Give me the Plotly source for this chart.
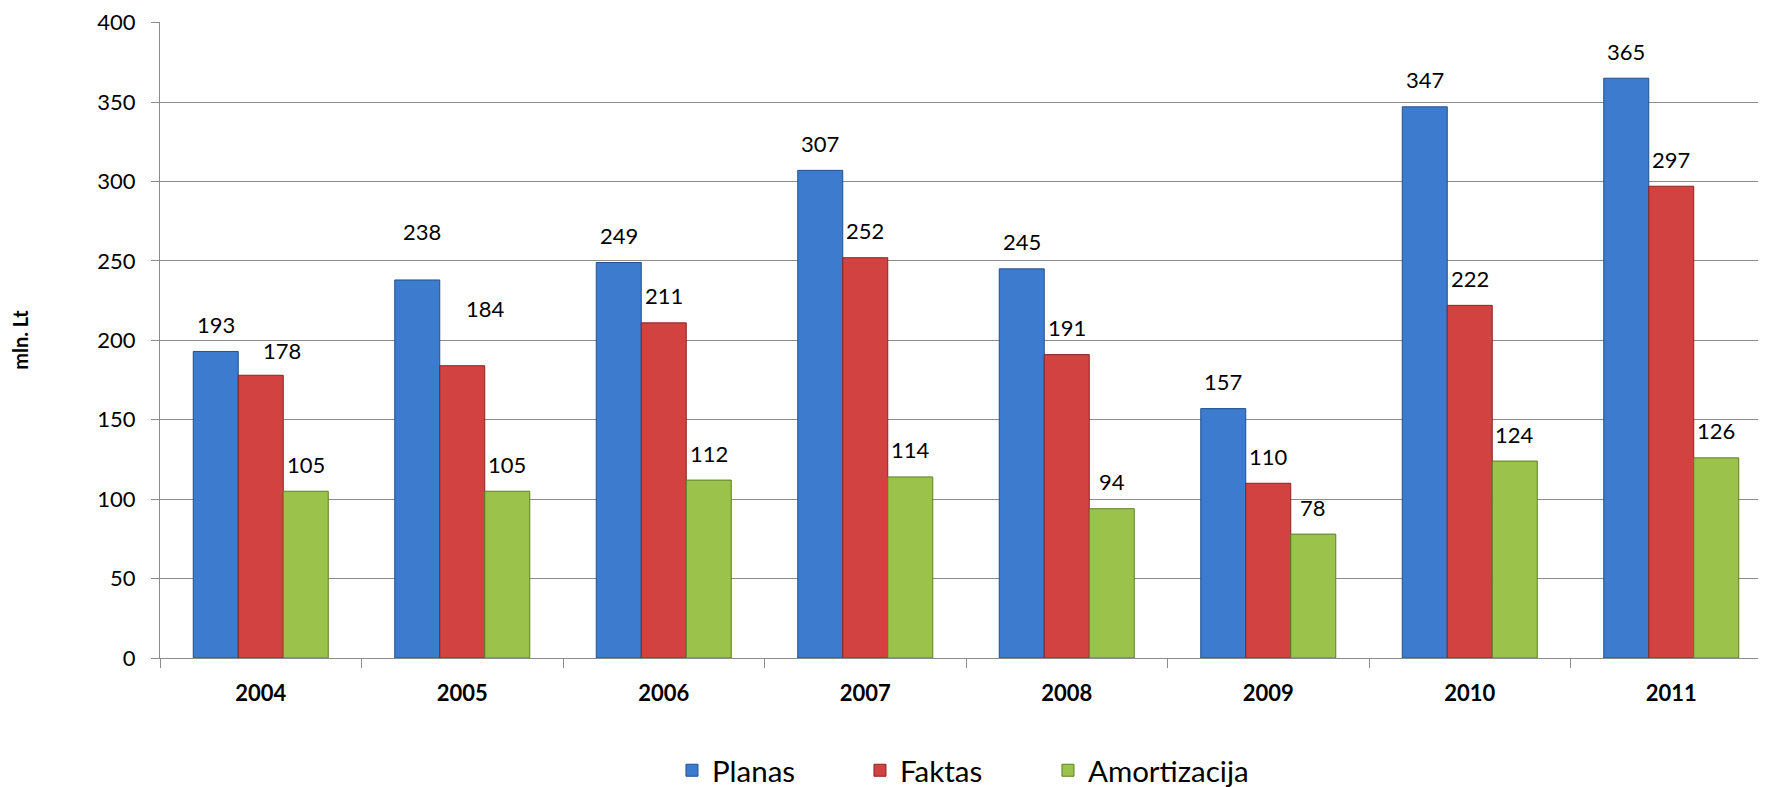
import plotly.graph_objects as go

years = ["2004", "2005", "2006", "2007", "2008", "2009", "2010", "2011"]
planas = [193, 238, 249, 307, 245, 157, 347, 365]
faktas = [178, 184, 211, 252, 191, 110, 222, 297]
amortizacija = [105, 105, 112, 114, 94, 78, 124, 126]

series_names = ["Planas", "Faktas", "Amortizacija"]
series_values = [planas, faktas, amortizacija]
fill_colors = ["#3C7BCD", "#D14240", "#9BC24A"]
edge_colors = ["#234F8C", "#8A2422", "#5F7E27"]

# label placement tweaks (pixels): (series, year index) -> (dx, dy)
label_tweaks = {(1, 0): (21, 25), (0, 1): (5, 48), (1, 1): (23, 57)}
default_dy = 27

FONT = "Lato"
bargap = 0.33
nser = len(series_names)
bar_w = (1 - bargap) / nser

fig = go.Figure()
for k, (name, vals) in enumerate(zip(series_names, series_values)):
    fig.add_trace(go.Bar(
        name=name, x=years, y=vals,
        marker=dict(color=fill_colors[k], line=dict(color=edge_colors[k], width=1)),
        hoverinfo="x+y+name",
    ))
# blank spacer legend entry so the last legend label is not clipped by the fixed entry width
fig.add_trace(go.Scatter(
    name=" ", x=[None], y=[None], mode="markers", showlegend=True, hoverinfo="skip",
    marker=dict(color="rgba(0,0,0,0)", size=1, line=dict(width=0)),
))

annotations = []
for k, vals in enumerate(series_values):
    for i, v in enumerate(vals):
        dx, dy = label_tweaks.get((k, i), (0, default_dy))
        annotations.append(dict(
            x=i + (k - (nser - 1) / 2) * bar_w, y=v, xref="x", yref="y",
            text=str(v), showarrow=False, xanchor="center", yanchor="middle",
            xshift=dx, yshift=dy,
            font=dict(family=FONT, size=22, color="#000000"),
        ))

fig.update_layout(
    width=1766, height=800,
    margin=dict(l=152, r=2, t=14, b=150, pad=0, autoexpand=False),
    paper_bgcolor="white", plot_bgcolor="white",
    barmode="group", bargap=bargap, bargroupgap=0,
    font=dict(family=FONT, color="#000000"),
    annotations=annotations,
    showlegend=True,
    legend=dict(
        orientation="h", x=0.3176, xanchor="left", y=-0.177, yanchor="middle",
        font=dict(family=FONT, size=29.5, color="#000000"),
        entrywidth=143, entrywidthmode="pixels",
        bgcolor="rgba(0,0,0,0)", borderwidth=0,
    ),
)

fig.update_xaxes(
    type="category", range=[-0.5, 7.5], automargin=False,
    showline=True, linecolor="#8C8C8C", linewidth=1,
    ticks="outside", tickson="boundaries", ticklen=9, tickcolor="#8C8C8C",
    tickfont=dict(family=FONT, size=22, color="#000000", weight="bold"),
    ticklabelstandoff=16,
    showgrid=False, zeroline=False,
)
fig.update_yaxes(
    range=[0, 400.4], tick0=0, dtick=50, automargin=False,
    showline=True, linecolor="#8C8C8C", linewidth=1,
    ticks="outside", ticklen=8, tickcolor="#8C8C8C",
    tickfont=dict(family=FONT, size=22, color="#000000"),
    ticklabelstandoff=11,
    showgrid=True, gridcolor="#8C8C8C", gridwidth=1,
    zeroline=False,
    title=dict(text="mln. Lt", standoff=63,
               font=dict(family=FONT, size=20, color="#000000", weight="bold")),
)

fig.write_html("out.html")
